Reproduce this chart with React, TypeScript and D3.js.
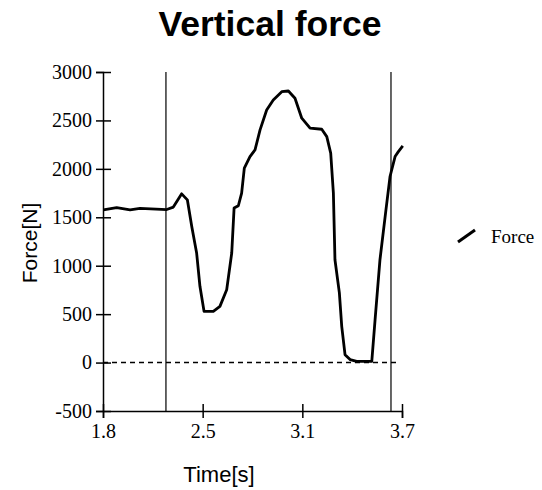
import React, { useEffect, useRef } from "react";
import * as d3 from "d3";

// force trace
const times = [
  1.802, 1.887, 1.972, 2.035, 2.205, 2.247, 2.3, 2.336, 2.364, 2.395, 2.416,
  2.442, 2.501, 2.543, 2.586, 2.618, 2.633, 2.66, 2.681, 2.698, 2.734, 2.766,
  2.798, 2.84, 2.882, 2.936, 2.978, 3.02, 3.063, 3.116, 3.19, 3.222, 3.247,
  3.264, 3.274, 3.302, 3.317, 3.338, 3.37, 3.412, 3.508, 3.529, 3.56, 3.598,
  3.624, 3.656, 3.677, 3.705,
];
const forces = [
  1577, 1600, 1577, 1592, 1580, 1605, 1742, 1680, 1405, 1131, 787, 529, 529,
  580, 752, 1131, 1595, 1619, 1749, 2007, 2127, 2196, 2402, 2608, 2711, 2797,
  2804, 2729, 2523, 2420, 2409, 2333, 2162, 1749, 1062, 719, 374, 82, 31, 13,
  13, 443, 1062, 1577, 1921, 2127, 2178, 2237,
];
const markerTimes = [2.2, 3.63];
const xDomain = [1.8, 3.7];
const yDomain = [-500, 3000];
const yTicks = [-500, 0, 500, 1000, 1500, 2000, 2500, 3000];
const xTickLabels = ["1.8", "2.5", "3.1", "3.7"];
const seriesName = "Force";

const App = () => {
  const chartRef = useRef<SVGSVGElement>(null);

  useEffect(() => {
    const width = 542;
    const height = 490;
    const svg = d3.select(chartRef.current);
    svg.selectAll("*").remove();
    svg.attr("width", width).attr("height", height);

    svg
      .append("rect")
      .attr("width", width)
      .attr("height", height)
      .attr("fill", "#fff");

    const x = d3.scaleLinear().domain(xDomain).range([103, 402]);
    const y = d3.scaleLinear().domain(yDomain).range([411, 72]);

    // title
    svg
      .append("text")
      .attr("x", 270)
      .attr("y", 36)
      .attr("text-anchor", "middle")
      .style("font-family", "Liberation Sans, Arial, sans-serif")
      .style("font-weight", "bold")
      .style("font-size", "35.5px")
      .text("Vertical force");

    // zero line (dashed)
    svg
      .append("line")
      .attr("x1", x(xDomain[0]))
      .attr("x2", 398)
      .attr("y1", y(0))
      .attr("y2", y(0))
      .attr("stroke", "#000")
      .attr("stroke-width", 1.5)
      .attr("stroke-dasharray", "5,4");

    // marker lines
    svg
      .append("g")
      .selectAll("line")
      .data(markerTimes)
      .enter()
      .append("line")
      .attr("x1", (d) => x(d))
      .attr("x2", (d) => x(d))
      .attr("y1", y(yDomain[1]))
      .attr("y2", y(yDomain[0]))
      .attr("stroke", "#000")
      .attr("stroke-width", 1.2);

    // y axis
    const yAxis = svg
      .append("g")
      .attr("transform", `translate(${x(xDomain[0])},0)`)
      .call(d3.axisLeft(y).tickValues(yTicks).tickSize(7).tickPadding(4).tickFormat((d) => String(d)));
    yAxis.select(".domain").attr("stroke-width", 1.5);
    yAxis.selectAll(".tick line").attr("x2", -7).attr("x1", 8).attr("stroke-width", 1.5);
    yAxis
      .selectAll("text")
      .attr("x", -11)
      .style("font-family", "Liberation Serif, serif")
      .style("font-size", "20px")
      .attr("fill", "#000");

    // x axis
    const n = xTickLabels.length;
    const xTickValues = d3.range(n).map((i) => xDomain[0] + (i * (xDomain[1] - xDomain[0])) / (n - 1));
    const xAxis = svg
      .append("g")
      .attr("transform", `translate(0,${y(yDomain[0])})`)
      .call(
        d3
          .axisBottom(x)
          .tickValues(xTickValues)
          .tickSize(7)
          .tickFormat((d, i) => xTickLabels[i])
      );
    xAxis.select(".domain").attr("stroke-width", 1.5);
    xAxis.selectAll(".tick line").attr("y1", -7).attr("y2", 7).attr("stroke-width", 1.5);
    xAxis
      .selectAll("text")
      .attr("y", 13)
      .style("font-family", "Liberation Serif, serif")
      .style("font-size", "20px")
      .attr("fill", "#000");

    // axis titles
    svg
      .append("text")
      .attr("x", 219)
      .attr("y", 482)
      .attr("text-anchor", "middle")
      .style("font-family", "Liberation Sans, Arial, sans-serif")
      .style("font-size", "22px")
      .text("Time[s]");
    svg
      .append("text")
      .attr("transform", "translate(37,243) rotate(-90)")
      .attr("text-anchor", "middle")
      .style("font-family", "Liberation Sans, Arial, sans-serif")
      .style("font-size", "21px")
      .text("Force[N]");

    // force line
    const line = d3
      .line<number>()
      .x((d, i) => x(times[i]))
      .y((d) => y(d));
    svg
      .append("path")
      .datum(forces)
      .attr("d", line)
      .attr("fill", "none")
      .attr("stroke", "#000")
      .attr("stroke-width", 2.8)
      .attr("stroke-linejoin", "round");

    // legend
    const legend = svg.append("g").attr("transform", "translate(458,242)");
    legend
      .append("line")
      .attr("x1", 0)
      .attr("y1", 0)
      .attr("x2", 17)
      .attr("y2", -12)
      .attr("stroke", "#000")
      .attr("stroke-width", 3);
    legend
      .append("text")
      .attr("x", 33)
      .attr("y", 1)
      .style("font-family", "Liberation Serif, serif")
      .style("font-size", "19px")
      .text(seriesName);
  }, []);

  return (
    <div style={{ position: "absolute", left: 0, top: 0 }}>
      <svg ref={chartRef} style={{ display: "block" }}></svg>
    </div>
  );
};

export default App;
